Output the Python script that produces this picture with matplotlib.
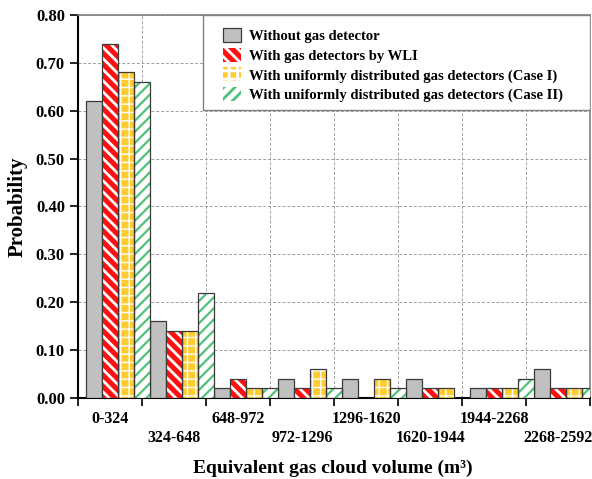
import matplotlib.pyplot as plt
import numpy as np

plt.rcParams['font.family'] = ['Liberation Serif', 'DejaVu Serif']
plt.rcParams['font.weight'] = 'bold'
plt.rcParams['hatch.linewidth'] = 2.0

volume_ranges = ['0-324', '324-648', '648-972', '972-1296', '1296-1620',
                 '1620-1944', '1944-2268', '2268-2592']

without_detector = [0.62, 0.16, 0.02, 0.04, 0.04, 0.04, 0.02, 0.06]
with_wli = [0.74, 0.14, 0.04, 0.02, 0.00, 0.02, 0.02, 0.02]
uniform_case1 = [0.68, 0.14, 0.02, 0.06, 0.04, 0.02, 0.02, 0.02]
uniform_case2 = [0.66, 0.22, 0.02, 0.02, 0.02, 0.00, 0.04, 0.02]

series_labels = ['Without gas detector',
                 'With gas detectors by WLI',
                 'With uniformly distributed gas detectors (Case I)',
                 'With uniformly distributed gas detectors (Case II)']

fig = plt.figure(figsize=(5.92, 4.79), dpi=100)
ax = fig.add_axes([0.132, 0.169, 0.865, 0.8])

x = np.arange(len(volume_ranges))
w = 0.25
edge = '#3a3a3a'

# (facecolor, hatch, hatch colour, hatch width)
styles = [('#c0c0c0', None, None, None),
          ('#ff1010', '\\\\\\', 'white', 2.0),
          ('#ffcc33', '++', 'white', 1.0),
          ('white', '///', '#4ec27a', 1.6)]
all_series = [without_detector, with_wli, uniform_case1, uniform_case2]

handles = []
for i, (vals, (fc, hatch, hc, hw)) in enumerate(zip(all_series, styles)):
    pos = x + i * w - 0.375 + w / 2
    if hatch:
        with plt.rc_context({'hatch.linewidth': hw}):
            ax.bar(pos, vals, w, color=fc, hatch=hatch, edgecolor=hc,
                   linewidth=0, zorder=3)
            proxy = plt.Rectangle((0, 0), 1, 1, facecolor=fc, hatch=hatch,
                                  edgecolor=hc, linewidth=0)
        ax.bar(pos, vals, w, facecolor='none', edgecolor=edge,
               linewidth=0.9, zorder=4)
    else:
        ax.bar(pos, vals, w, color=fc, edgecolor=edge, linewidth=0.9, zorder=3)
        proxy = plt.Rectangle((0, 0), 1, 1, facecolor=fc, edgecolor=edge,
                              linewidth=0.9)
    handles.append(proxy)

ax.set_xlim(-0.5, len(volume_ranges) - 0.5)
ax.set_ylim(0, 0.8)
ax.set_yticks(np.arange(0, 0.81, 0.1))
ax.set_yticklabels(['%.2f' % v for v in np.arange(0, 0.81, 0.1)], fontsize=12)

# group boundaries carry the tick marks and grid
ax.set_xticks(np.arange(-0.5, len(volume_ranges)), minor=False)
ax.set_xticklabels([])
ax.tick_params(axis='both', which='major', length=6, width=1.2, direction='out')

# staggered category labels: first row on the main axis, second row on a secondary one
ax.set_xticks(x[::2], minor=True)
ax.set_xticklabels(volume_ranges[::2], minor=True, fontsize=11.5)
ax.tick_params(axis='x', which='minor', length=0, pad=9)

sec = ax.secondary_xaxis('bottom')
sec.set_xticks(x[1::2])
sec.set_xticklabels(volume_ranges[1::2], fontsize=11.5)
sec.tick_params(axis='x', length=0, pad=23)
sec.spines['bottom'].set_visible(False)

ax.grid(True, which='major', linestyle=(0, (3, 2)), color='#a0a0a0', linewidth=0.7)
ax.set_axisbelow(True)

for s in ['left', 'bottom']:
    ax.spines[s].set_linewidth(1.5)
for s in ['top', 'right']:
    ax.spines[s].set_color('#808080')
    ax.spines[s].set_linewidth(1.2)

fig.text(0.563, 0.023, 'Equivalent gas cloud volume (m³)', fontsize=14,
         fontweight='bold', ha='center', va='center')
ax.set_ylabel('Probability', fontsize=15, fontweight='bold', labelpad=6)

# legend box drawn separately so its padding can match the original
box = plt.Rectangle((0.244, 0.752), 0.756, 0.248, transform=ax.transAxes,
                    facecolor='white', edgecolor='#808080', linewidth=1.0,
                    zorder=5)
ax.add_patch(box)
leg = ax.legend(handles, series_labels, loc='upper left', fontsize=10.5,
                bbox_to_anchor=(0.283, 0.966), frameon=False,
                borderaxespad=0, borderpad=0, handlelength=1.2,
                handleheight=1.1, labelspacing=0.33, handletextpad=0.6)
leg.set_zorder(6)

fig.savefig('out.png', dpi=100)
